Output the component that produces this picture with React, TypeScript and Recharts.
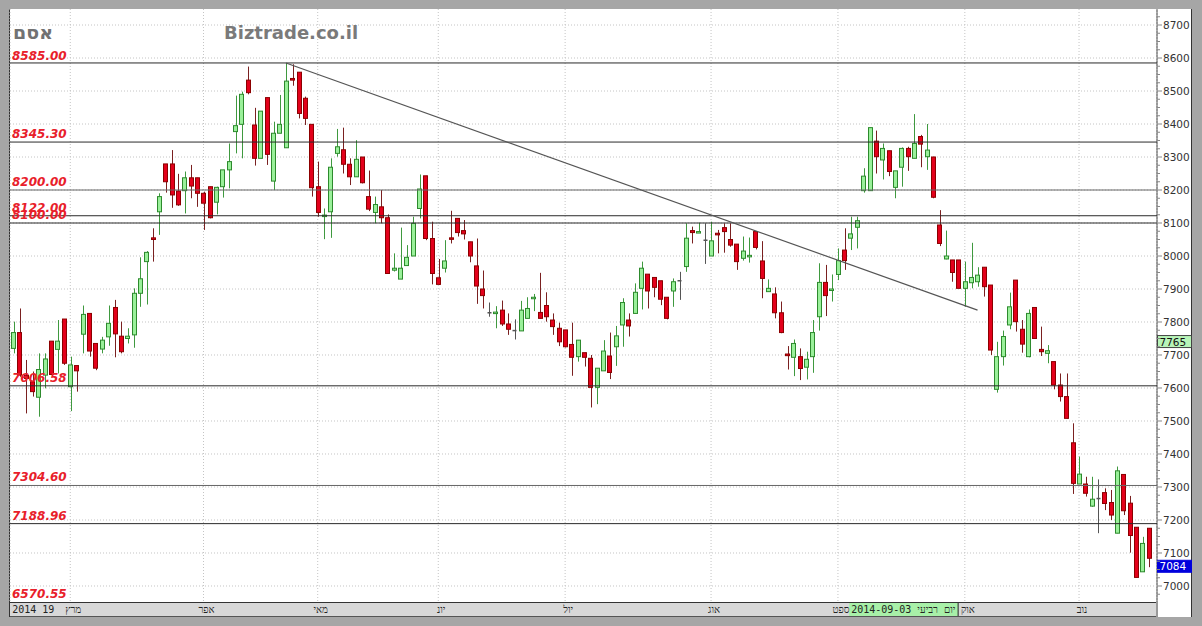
import React from 'react';
import { ComposedChart, Bar, XAxis, YAxis, CartesianGrid, ReferenceLine } from 'recharts';

const opens = [
  7720,7768,7639,7619,7572,7639,7742,7717,7809,7604,
  7668,7763,7826,7735,7718,7755,7844,7757,7750,7761,
  7887,7983,8055,8134,8279,8279,8197,8198,8237,8237,
  8190,8210,8163,8210,8261,8377,8399,8533,8397,8296,
  8480,8227,8372,8328,8538,8557,8478,8399,8210,8120,
  8134,8311,8322,8278,8240,8300,8180,8132,8149,8116,
  7957,7930,7971,8000,8144,8243,8053,7934,7963,8055,
  8114,8077,8043,7970,7900,7828,7827,7836,7794,7774,
  7773,7811,7872,7829,7850,7806,7781,7776,7732,7695,
  7707,7690,7602,7652,7697,7725,7791,7806,7826,7902,
  7945,7935,7925,7875,7894,7925,7968,8077,8072,8048,
  8000,8069,8086,8050,8036,7993,8000,8074,7985,7892,
  7885,7828,7703,7693,7695,7663,7695,7816,7920,7897,
  7944,8018,8054,8087,8198,8198,8348,8291,8319,8208,
  8269,8326,8296,8362,8301,8300,8094,7991,7988,7988,
  7902,7919,7922,7966,7912,7596,7695,7791,7927,7778,
  7695,7844,7717,7705,7680,7609,7574,7434,7309,7309,
  7242,7265,7283,7253,7160,7338,7251,7178,7043,7175,
];
const highs = [
  7801,7841,7685,7650,7705,7705,7742,7806,7809,7695,
  7668,7850,7826,7735,7755,7850,7867,7801,7781,7902,
  7996,8015,8084,8190,8279,8321,8249,8256,8276,8237,
  8195,8210,8210,8261,8341,8486,8498,8574,8449,8439,
  8480,8407,8488,8585,8581,8557,8483,8399,8286,8144,
  8296,8385,8389,8296,8351,8300,8259,8180,8200,8126,
  8008,8086,8033,8119,8247,8243,8104,7991,8048,8137,
  8114,8109,8043,8053,7956,7859,7848,7865,7826,7808,
  7864,7875,7885,7949,7890,7826,7798,7776,7798,7745,
  7707,7700,7660,7745,7768,7788,7872,7826,7917,7983,
  7945,7935,7925,7875,7932,7952,8099,8089,8101,8099,
  8104,8079,8099,8099,8036,8059,8056,8074,8045,7929,
  7905,7862,7727,7747,7720,7710,7806,7978,7973,7944,
  8023,8084,8119,8119,8266,8389,8380,8341,8319,8258,
  8329,8331,8430,8367,8400,8301,8139,8077,7988,7988,
  7983,8040,7966,7966,7912,7740,7774,7889,7927,7806,
  7838,7844,7786,7730,7680,7644,7644,7493,7392,7331,
  7331,7323,7296,7291,7362,7338,7273,7178,7149,7175,
];
const lows = [
  7705,7634,7523,7574,7513,7599,7641,7644,7670,7530,
  7589,7705,7695,7654,7705,7728,7693,7705,7735,7722,
  7846,7853,7983,8064,8192,8146,8152,8129,8175,8149,
  8079,8114,8126,8177,8205,8311,8296,8490,8274,8296,
  8276,8200,8372,8328,8516,8417,8397,8180,8119,8051,
  8055,8301,8250,8215,8240,8220,8136,8099,8099,7947,
  7953,7930,7971,8000,8114,8048,7914,7912,7950,8038,
  8059,8050,7981,7855,7841,7816,7781,7788,7761,7747,
  7773,7811,7833,7811,7801,7761,7727,7723,7637,7680,
  7665,7541,7551,7652,7627,7667,7725,7756,7826,7838,
  7841,7875,7851,7808,7846,7867,7952,8038,8071,7976,
  8000,8008,8010,8028,7958,7986,7980,8020,7872,7892,
  7811,7766,7656,7636,7624,7626,7646,7774,7818,7862,
  7927,7958,8018,8023,8192,8198,8250,8232,8242,8175,
  8210,8258,8296,8269,8261,8175,8030,7990,7922,7902,
  7846,7902,7907,7877,7700,7586,7668,7778,7771,7707,
  7693,7750,7697,7675,7596,7559,7508,7279,7309,7271,
  7240,7160,7230,7200,7160,7215,7101,7026,7043,7057,
];
const closes = [
  7768,7639,7629,7589,7656,7688,7641,7742,7675,7670,
  7652,7823,7712,7660,7745,7796,7764,7710,7757,7887,
  7931,8011,8050,8180,8225,8185,8155,8237,8212,8190,
  8160,8116,8208,8261,8286,8395,8490,8495,8296,8439,
  8308,8372,8399,8530,8533,8432,8417,8207,8132,8124,
  8269,8331,8278,8240,8293,8222,8142,8156,8116,7947,
  7963,7963,7996,8099,8203,8053,7947,7914,7985,8051,
  8071,8067,8000,7909,7880,7828,7830,7794,7778,7774,
  7836,7841,7875,7811,7816,7786,7740,7725,7693,7745,
  7693,7602,7660,7712,7647,7758,7859,7788,7890,7963,
  7894,7905,7869,7811,7922,7925,8054,8071,8074,8048,
  8046,8064,8074,8033,7983,8015,8002,8026,7932,7902,
  7828,7768,7698,7735,7659,7687,7768,7920,7880,7900,
  7986,7986,8067,8107,8242,8389,8301,8326,8256,8258,
  8326,8301,8341,8339,8321,8178,8038,8000,7950,7902,
  7922,7935,7942,7907,7715,7695,7756,7846,7801,7733,
  7826,7750,7710,7713,7609,7574,7508,7311,7339,7281,
  7263,7265,7250,7215,7349,7228,7153,7026,7129,7084,
];

const monthTicks = [10, 31, 49, 68, 88, 111, 131, 151, 169];
const monthLabels = ['מרץ', 'אפר', 'מאי', 'יונ', 'יול', 'אוג', 'ספט', 'אוק', 'נוב'];
const firstDay = 1;
const firstLabel = '2014 19';
const yMajorTicks = [7000, 7100, 7200, 7300, 7400, 7500, 7600, 7700, 7800, 7900, 8000, 8100, 8200, 8300, 8400, 8500, 8600, 8700];
const levels = [8585, 8345.3, 8200, 8122, 8100, 7606.58, 7304.6, 7188.96];
const bottomLevelLabel = 6570.55;
const trendStart = { day: 44, value: 8585 };
const trendEnd = { day: 153, value: 7836 };
const markPrice = 7765;
const lastPrice = 7084;
const markDay = 133;
const markDate = '2014-09-03 יום רביעי';
const symbolName = 'אסם';
const siteName = 'Biztrade.co.il';

const Y_MIN = 6951.5;
const Y_MAX = 8748.5;

const data = opens.map((o, i) => ({ day: i + 1, open: o, high: highs[i], low: lows[i], close: closes[i] }));
const yTicks = yMajorTicks.flatMap((v) => [v - 25, v, v + 25, v + 50]).filter((v) => v > Y_MIN && v < Y_MAX);

const Candle = (props: any) => {
  const { x, y, width, height, payload } = props;
  if (x == null || y == null) return null;
  const { open, close, high, low } = payload;
  const h = Math.abs(height);
  const top = height >= 0 ? y : y + height;
  const ratio = h / (high - low || 1);
  const yO = top + (high - open) * ratio;
  const yC = top + (high - close) * ratio;
  const cx = Math.round(x + width / 2) + 0.5;
  const doji = open === close;
  const up = close > open;
  const wick = doji ? '#555' : up ? '#3f993f' : '#7a2020';
  const fill = up ? '#9af09a' : '#e3001b';
  const stroke = up ? '#2d8a2d' : '#8c0000';
  const bt = Math.min(yO, yC);
  const bh = Math.abs(yO - yC);
  const bx = Math.round(x) + 0.5;
  const bw = Math.max(2, Math.round(width) - 1);
  return (
    <g>
      <line x1={cx} x2={cx} y1={top} y2={top + h} stroke={wick} strokeWidth={1} />
      {doji ? (
        <line x1={bx} x2={bx + bw} y1={yO} y2={yO} stroke={wick} strokeWidth={1.5} />
      ) : (
        <rect x={bx} y={bt} width={bw} height={Math.max(1.5, bh)} fill={fill} stroke={stroke} strokeWidth={1} />
      )}
    </g>
  );
};

const YTick = (props: any) => {
  const { x, y, payload } = props;
  const v = payload.value;
  const major = v % 100 === 0;
  return (
    <g>
      <line x1={x} x2={x + (major ? 5 : 3)} y1={y} y2={y} stroke="#888" strokeWidth={1} />
      {major && (
        <text x={x + 6} y={y + 4} fontSize={10.5} fontFamily="DejaVu Sans" fill="#333">{v}</text>
      )}
    </g>
  );
};

const XTick = (props: any) => {
  const { x, y, payload } = props;
  const idx = monthTicks.indexOf(payload.value);
  return (
    <text x={x + 3} y={y + 11} textAnchor="middle" fontSize={10} fontFamily="DejaVu Sans Mono" fill="#222">
      {monthLabels[idx]}
    </text>
  );
};

const LevelLabel = (props: any) => {
  const { viewBox, text, dy } = props;
  if (!viewBox) return null;
  return (
    <text x={viewBox.x + 2} y={viewBox.y - (dy ?? 4)} fill="#e8202a" fontSize={12} fontWeight="bold" fontStyle="italic" fontFamily="DejaVu Sans">
      {text}
    </text>
  );
};

const PriceBox = (props: any) => {
  const { viewBox, text, fill, color, stroke } = props;
  if (!viewBox) return null;
  const bx = viewBox.x + viewBox.width + 0.5;
  return (
    <g>
      <rect x={bx} y={viewBox.y + 2} width={34} height={12} fill={fill} stroke={stroke} strokeWidth={1} />
      <text x={bx + 2} y={viewBox.y + 12} fontSize={10.5} fontFamily="DejaVu Sans" fill={color}>{text}</text>
    </g>
  );
};

const DateBox = (props: any) => {
  const { viewBox, text } = props;
  if (!viewBox) return null;
  const bx = viewBox.x - 1.5;
  const by = viewBox.y + viewBox.height + 1;
  return (
    <g>
      <rect x={bx} y={by} width={109} height={13} fill="#a8f0a8" />
      <line x1={bx + 109} x2={bx + 109} y1={by} y2={by + 13} stroke="#222" />
      <text x={bx + 2} y={by + 10} fontSize={10} fontFamily="DejaVu Sans Mono" fill="#222">{text}</text>
    </g>
  );
};

const FirstLabel = (props: any) => {
  const { viewBox, text } = props;
  if (!viewBox) return null;
  return (
    <text x={viewBox.x - 1} y={viewBox.y + viewBox.height + 11} fontSize={10} fontFamily="DejaVu Sans Mono" fill="#222">{text}</text>
  );
};

const levelStroke = (v: number, i: number) => (i === 2 || i === 6 ? '#666' : '#2a2a2a');

export default function App() {
  return (
    <div style={{ position: 'absolute', left: 0, top: 0, width: 1202, height: 626, background: '#a6a6a6', overflow: 'hidden' }}>
      <div style={{ position: 'absolute', left: 9, top: 9, width: 1183, height: 608, background: '#fff', borderLeft: '1px solid #333', borderRight: '1px solid #333', boxSizing: 'border-box' }} />
      <div style={{ position: 'absolute', left: 10, top: 602, width: 1147, height: 15, background: '#d8d8d8', borderTop: '1px solid #333', borderBottom: '1px solid #555', boxSizing: 'border-box' }} />
      <div style={{ position: 'absolute', left: 1156, top: 9, width: 2, height: 608, background: '#999' }} />
      <ComposedChart
        width={1202}
        height={626}
        data={data}
        margin={{ top: 9, right: 10, bottom: 9, left: 10 }}
        barCategoryGap={0}
        style={{ position: 'absolute', left: 0, top: 0 }}
      >
        <CartesianGrid stroke="#c4c4c4" strokeDasharray="1 2" horizontalValues={yMajorTicks} />
        <XAxis
          dataKey="day"
          type="category"
          ticks={monthTicks}
          interval={0}
          tick={<XTick />}
          tickSize={0}
          tickMargin={0}
          tickLine={false}
          axisLine={false}
          height={15}
          padding={{ left: 0, right: 5 }}
        />
        <YAxis
          orientation="right"
          type="number"
          domain={[Y_MIN, Y_MAX]}
          allowDataOverflow
          ticks={yTicks}
          interval={0}
          tick={<YTick />}
          tickSize={0}
          tickMargin={0}
          tickLine={false}
          axisLine={false}
          width={35}
        />
        {levels.map((v, i) => (
          <ReferenceLine
            key={v}
            y={v}
            stroke={levelStroke(v, i)}
            strokeWidth={1}
            label={<LevelLabel text={v.toFixed(2)} dy={i === 0 ? 3 : 4} />}
          />
        ))}
        <ReferenceLine y={Y_MIN} stroke="none" label={<LevelLabel text={bottomLevelLabel.toFixed(2)} dy={4} />} />
        <ReferenceLine x={firstDay} stroke="none" label={<FirstLabel text={firstLabel} />} />
        <Bar dataKey={(d: any) => [d.low, d.high]} barSize={5} isAnimationActive={false} shape={(p: any) => <Candle {...p} />} />
        <ReferenceLine
          segment={[{ x: trendStart.day, y: trendStart.value }, { x: trendEnd.day, y: trendEnd.value }]}
          stroke="#555"
          strokeWidth={1.2}
          ifOverflow="visible"
        />
        <ReferenceLine y={markPrice} stroke="none" label={<PriceBox text={String(markPrice)} fill="#b8f5b8" stroke="#444" color="#111" />} />
        <ReferenceLine y={lastPrice} stroke="none" label={<PriceBox text={String(lastPrice)} fill="#0000dd" stroke="#0000dd" color="#fff" />} />
        <ReferenceLine x={markDay} stroke="none" label={<DateBox text={markDate} />} />
      </ComposedChart>
      <svg width={1202} height={626} style={{ position: 'absolute', left: 0, top: 0, pointerEvents: 'none' }}>
        <text x={13} y={39} fontSize={19} fontWeight="bold" fontFamily="DejaVu Sans" fill="#727272">{symbolName}</text>
        <text x={224} y={39} fontSize={18} fontWeight="bold" fontFamily="DejaVu Sans" fill="#7a7a7a">{siteName}</text>
      </svg>
    </div>
  );
}
